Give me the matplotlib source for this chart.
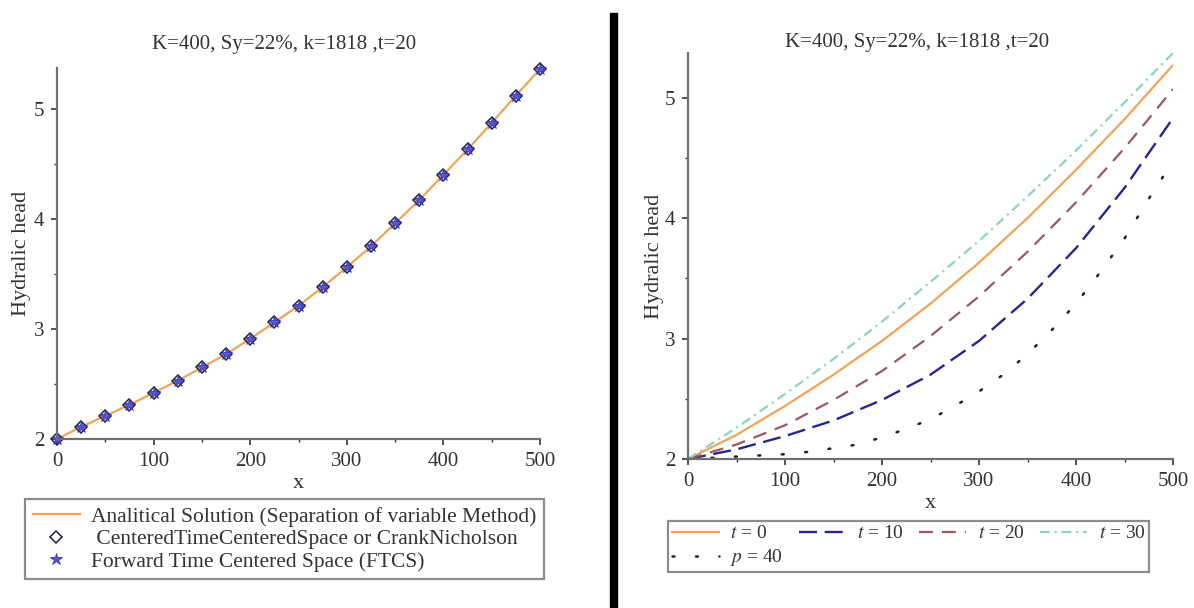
import matplotlib.pyplot as plt
from matplotlib.patches import Rectangle
from matplotlib.ticker import MultipleLocator

plt.rcParams['font.family'] = ['Liberation Serif', 'DejaVu Serif']
plt.rcParams['mathtext.fontset'] = 'stix'
plt.rcParams['lines.scale_dashes'] = False

# Left panel: t=20, analytic line plus two numerical schemes
x_left = [0, 25, 50, 75, 100, 125, 150, 175, 200, 225, 250,
          275, 300, 325, 350, 375, 400, 425, 450, 475, 500]
h_analytic = [2.00, 2.11, 2.21, 2.31, 2.42, 2.53, 2.65, 2.77, 2.91, 3.06, 3.21,
              3.38, 3.56, 3.75, 3.96, 4.17, 4.40, 4.63, 4.87, 5.12, 5.36]
h_ctcs = [2.00, 2.11, 2.21, 2.31, 2.42, 2.53, 2.65, 2.77, 2.91, 3.06, 3.21,
          3.38, 3.56, 3.75, 3.96, 4.17, 4.40, 4.63, 4.87, 5.12, 5.36]
h_ftcs = [2.00, 2.11, 2.21, 2.31, 2.42, 2.53, 2.65, 2.77, 2.91, 3.06, 3.21,
          3.38, 3.56, 3.75, 3.96, 4.17, 4.40, 4.63, 4.87, 5.12, 5.36]

# Right panel: heads at different times
x_right = [0, 50, 100, 150, 200, 250, 300, 350, 400, 450, 500]
h_t0 = [2.00, 2.20, 2.44, 2.70, 2.98, 3.29, 3.63, 4.00, 4.40, 4.82, 5.27]
h_t10 = [2.00, 2.08, 2.19, 2.32, 2.49, 2.70, 2.98, 3.33, 3.75, 4.25, 4.83]
h_t20 = [2.00, 2.12, 2.28, 2.49, 2.73, 3.02, 3.35, 3.72, 4.13, 4.58, 5.07]
h_t30 = [2.00, 2.26, 2.54, 2.83, 3.14, 3.47, 3.81, 4.18, 4.56, 4.96, 5.37]
x_p40 = [0, 25, 50, 75, 100, 125, 150, 175, 200, 225, 250,
         275, 300, 325, 350, 375, 400, 425, 450, 475, 500]
h_p40 = [2.00, 2.01, 2.02, 2.03, 2.04, 2.06, 2.09, 2.12, 2.18, 2.25, 2.33,
         2.44, 2.56, 2.70, 2.87, 3.07, 3.29, 3.55, 3.83, 4.16, 4.47]

title = 'K=400, Sy=22%, k=1818 ,t=20'
W, H = 1194, 608
fig = plt.figure(figsize=(W / 100, H / 100), dpi=100)

spine_col = '#707070'
text_col = '#333333'


def style_axes(ax):
    ax.set_xlim(0, 500)
    ax.set_ylim(2, 5.37)
    for s in ['top', 'right']:
        ax.spines[s].set_visible(False)
    for s in ['left', 'bottom']:
        ax.spines[s].set_color(spine_col)
        ax.spines[s].set_linewidth(1.6)
    ax.xaxis.set_major_locator(MultipleLocator(100))
    ax.xaxis.set_minor_locator(MultipleLocator(50))
    ax.yaxis.set_major_locator(MultipleLocator(1))
    ax.yaxis.set_minor_locator(MultipleLocator(0.5))
    ax.tick_params(which='major', length=4, width=1.2, color=text_col,
                   labelsize=15, labelcolor=text_col, pad=5)
    ax.tick_params(which='minor', length=2.5, width=1.0, color=text_col)
    ax.set_xlabel('x', fontsize=16, color=text_col)
    ax.set_ylabel('Hydralic head', fontsize=16, color=text_col)
    ax.xaxis.label.set_va('center')
    ax.yaxis.label.set_va('center')


# ---- left panel
ax1 = fig.add_axes([57 / W, 1 - 439 / H, 483 / W, 371 / H])
ax1.plot(x_left, h_analytic, color='#EDA55A', lw=1.6,
         label='Analitical Solution (Separation of variable Method)')
ax1.plot(x_left, h_ctcs, ls='none', marker='D', ms=6.5, mfc='none',
         mec='#20204a', mew=1.1, clip_on=False,
         label=' CenteredTimeCenteredSpace or CrankNicholson')
ax1.plot(x_left, h_ftcs, ls='none', marker='*', ms=9, mfc='#5656d8',
         mec='#3434a8', mew=0.6, clip_on=False,
         label='Forward Time Centered Space (FTCS)')
style_axes(ax1)
ax1.xaxis.set_label_coords(0.5, (439 - 483) / 371)
ax1.yaxis.set_label_coords((22 - 57) / 483, 0.5)
fig.text(284 / W, 1 - 45 / H, title, fontsize=15, color=text_col,
         ha='center', va='center')
leg1 = ax1.legend(loc='upper left', bbox_to_anchor=(25 / W, 1 - 499 / H),
                  bbox_transform=fig.transFigure, fontsize=15.5, frameon=True,
                  fancybox=False, handlelength=2.2, handletextpad=0.5,
                  labelspacing=0.12, borderpad=0.35, borderaxespad=0)
leg1.get_frame().set_edgecolor(spine_col)
leg1.get_frame().set_linewidth(1.6)
for t in leg1.get_texts():
    t.set_color(text_col)

# ---- right panel
ax2 = fig.add_axes([688 / W, 1 - 459 / H, 485 / W, 406 / H])
l0, = ax2.plot(x_right, h_t0, color='#EDA55A', lw=1.6, label='$t$ = 0')
l10, = ax2.plot(x_right, h_t10, color='#26268e', lw=1.7,
                dashes=(13, 5.5), label='$t$ = 10')
l20, = ax2.plot(x_right, h_t20, color='#9a5860', lw=1.6,
                dashes=(10, 6.5), label='$t$ = 20')
l30, = ax2.plot(x_right, h_t30, color='#8ed2c2', lw=1.6,
                dashes=(7, 3.5, 1.5, 3.5), label='$t$ = 30')
l40, = ax2.plot(x_p40, h_p40, color='#222222', lw=1.8,
                dashes=(1.4, 15.5), dash_capstyle='round', clip_on=False,
                label='$p$ = 40')
style_axes(ax2)
ax2.xaxis.set_label_coords(0.5, (459 - 503) / 406)
ax2.yaxis.set_label_coords((654 - 688) / 485, 0.5)
fig.text(917 / W, 1 - 43 / H, title, fontsize=15, color=text_col,
         ha='center', va='center')
leg2 = ax2.legend(handles=[l0, l40, l10, l20, l30], ncol=4, loc='upper left',
                  bbox_to_anchor=(668 / W, 1 - 521 / H),
                  bbox_transform=fig.transFigure, fontsize=14, frameon=True,
                  fancybox=False, handlelength=2.4, handletextpad=0.6,
                  labelspacing=0.25, columnspacing=0.8, borderpad=0.2,
                  borderaxespad=0)
leg2.get_frame().set_edgecolor(spine_col)
leg2.get_frame().set_linewidth(1.6)
for t in leg2.get_texts():
    t.set_color(text_col)

# black divider between the panels
fig.patches.append(Rectangle((610 / W, 0), 7 / W, 1 - 13 / H,
                             transform=fig.transFigure, color='black'))

fig.savefig('out.png', dpi=100)
